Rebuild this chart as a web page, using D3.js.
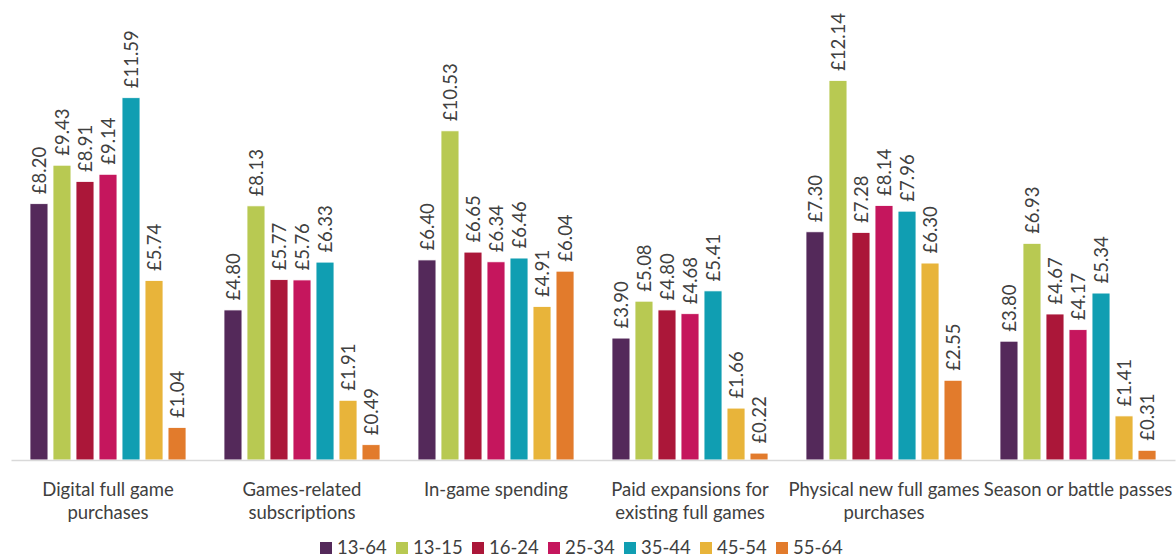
<!DOCTYPE html>
<html>
<head>
<meta charset="utf-8">
<script src="https://cdn.jsdelivr.net/npm/d3@7"></script>
<style>
  html, body { margin: 0; padding: 0; background: #fff; }
  svg { display: block; font-family: Lato, "Open Sans", sans-serif; }
</style>
</head>
<body>
<svg id="chart" width="1176" height="559"></svg>
<script>
// Spending categories (multi-line labels split on "\n")
const categories = [
  "Digital full game\npurchases",
  "Games-related\nsubscriptions",
  "In-game spending",
  "Paid expansions for\nexisting full games",
  "Physical new full games\npurchases",
  "Season or battle passes"
];

// Age groups
const ageGroups = ["13-64", "13-15", "16-24", "25-34", "35-44", "45-54", "55-64"];

// Average spend (£) per age group, one value per category
const spend1364 = [8.20, 4.80, 6.40, 3.90, 7.30, 3.80];
const spend1315 = [9.43, 8.13, 10.53, 5.08, 12.14, 6.93];
const spend1624 = [8.91, 5.77, 6.65, 4.80, 7.28, 4.67];
const spend2534 = [9.14, 5.76, 6.34, 4.68, 8.14, 4.17];
const spend3544 = [11.59, 6.33, 6.46, 5.41, 7.96, 5.34];
const spend4554 = [5.74, 1.91, 4.91, 1.66, 6.30, 1.41];
const spend5564 = [1.04, 0.49, 6.04, 0.22, 2.55, 0.31];

const seriesValues = [spend1364, spend1315, spend1624, spend2534, spend3544, spend4554, spend5564];
const colors = ["#54295A", "#B8C952", "#AB1739", "#C5165D", "#109EB2", "#E8B43A", "#E27B2C"];

const svg = d3.select("#chart");
const baseline = 460;
const plotLeft = 11, plotRight = 1175;
const fontSize = 18.5;
const textColor = "#404040";

const x0 = d3.scaleBand().domain(d3.range(categories.length)).range([plotLeft, plotRight]);
const x1 = d3.scaleBand().domain(d3.range(ageGroups.length))
  .range([19, x0.bandwidth() - 19]).paddingInner(0.22).paddingOuter(0);
const y = d3.scaleLinear().domain([0, 14]).range([baseline, baseline - 14 * 31.26]);

// Bars with rotated value labels
const groups = svg.selectAll("g.cat").data(categories).join("g")
  .attr("class", "cat")
  .attr("transform", (d, i) => `translate(${x0(i)},0)`);

groups.each(function(cat, ci) {
  const g = d3.select(this);
  const rows = ageGroups.map((a, si) => ({ si, v: seriesValues[si][ci] }));
  g.selectAll("rect").data(rows).join("rect")
    .attr("x", d => x1(d.si))
    .attr("y", d => y(d.v))
    .attr("width", x1.bandwidth())
    .attr("height", d => baseline - y(d.v))
    .attr("fill", d => colors[d.si])
    .attr("stroke", "#fff")
    .attr("stroke-width", 0.8);
  g.selectAll("text.val").data(rows).join("text")
    .attr("class", "val")
    .attr("transform", d => `translate(${x1(d.si) + x1.bandwidth() / 2 + 7},${y(d.v) - 9.5}) rotate(-90)`)
    .attr("font-size", fontSize)
    .attr("fill", textColor)
    .text(d => "£" + d.v.toFixed(2));
});

// Axis baseline
const xAxis = d3.axisBottom(x0).tickSize(0).tickFormat("");
svg.append("g").attr("transform", `translate(0,${baseline})`).call(xAxis)
  .call(g => g.select(".domain").attr("stroke", "#d9d9d9").attr("stroke-width", 1.5));

// Category labels
categories.forEach((c, i) => {
  const lines = c.split("\n");
  const t = svg.append("text")
    .attr("text-anchor", "middle")
    .attr("font-size", fontSize)
    .attr("fill", textColor);
  lines.forEach((ln, li) => {
    t.append("tspan")
      .attr("x", x0(i) + x0.bandwidth() / 2)
      .attr("y", 496 + li * 23)
      .text(ln);
  });
});

// Legend
const legendX = d3.scalePoint().domain(ageGroups).range([320, 776]);
const legend = svg.selectAll("g.leg").data(ageGroups).join("g")
  .attr("class", "leg")
  .attr("transform", d => `translate(${legendX(d)},542)`);
legend.append("rect").attr("width", 12).attr("height", 12)
  .attr("fill", (d, i) => colors[i]);
legend.append("text").attr("x", 17).attr("y", 12)
  .attr("font-size", fontSize).attr("fill", textColor).text(d => d);
</script>
</body>
</html>
